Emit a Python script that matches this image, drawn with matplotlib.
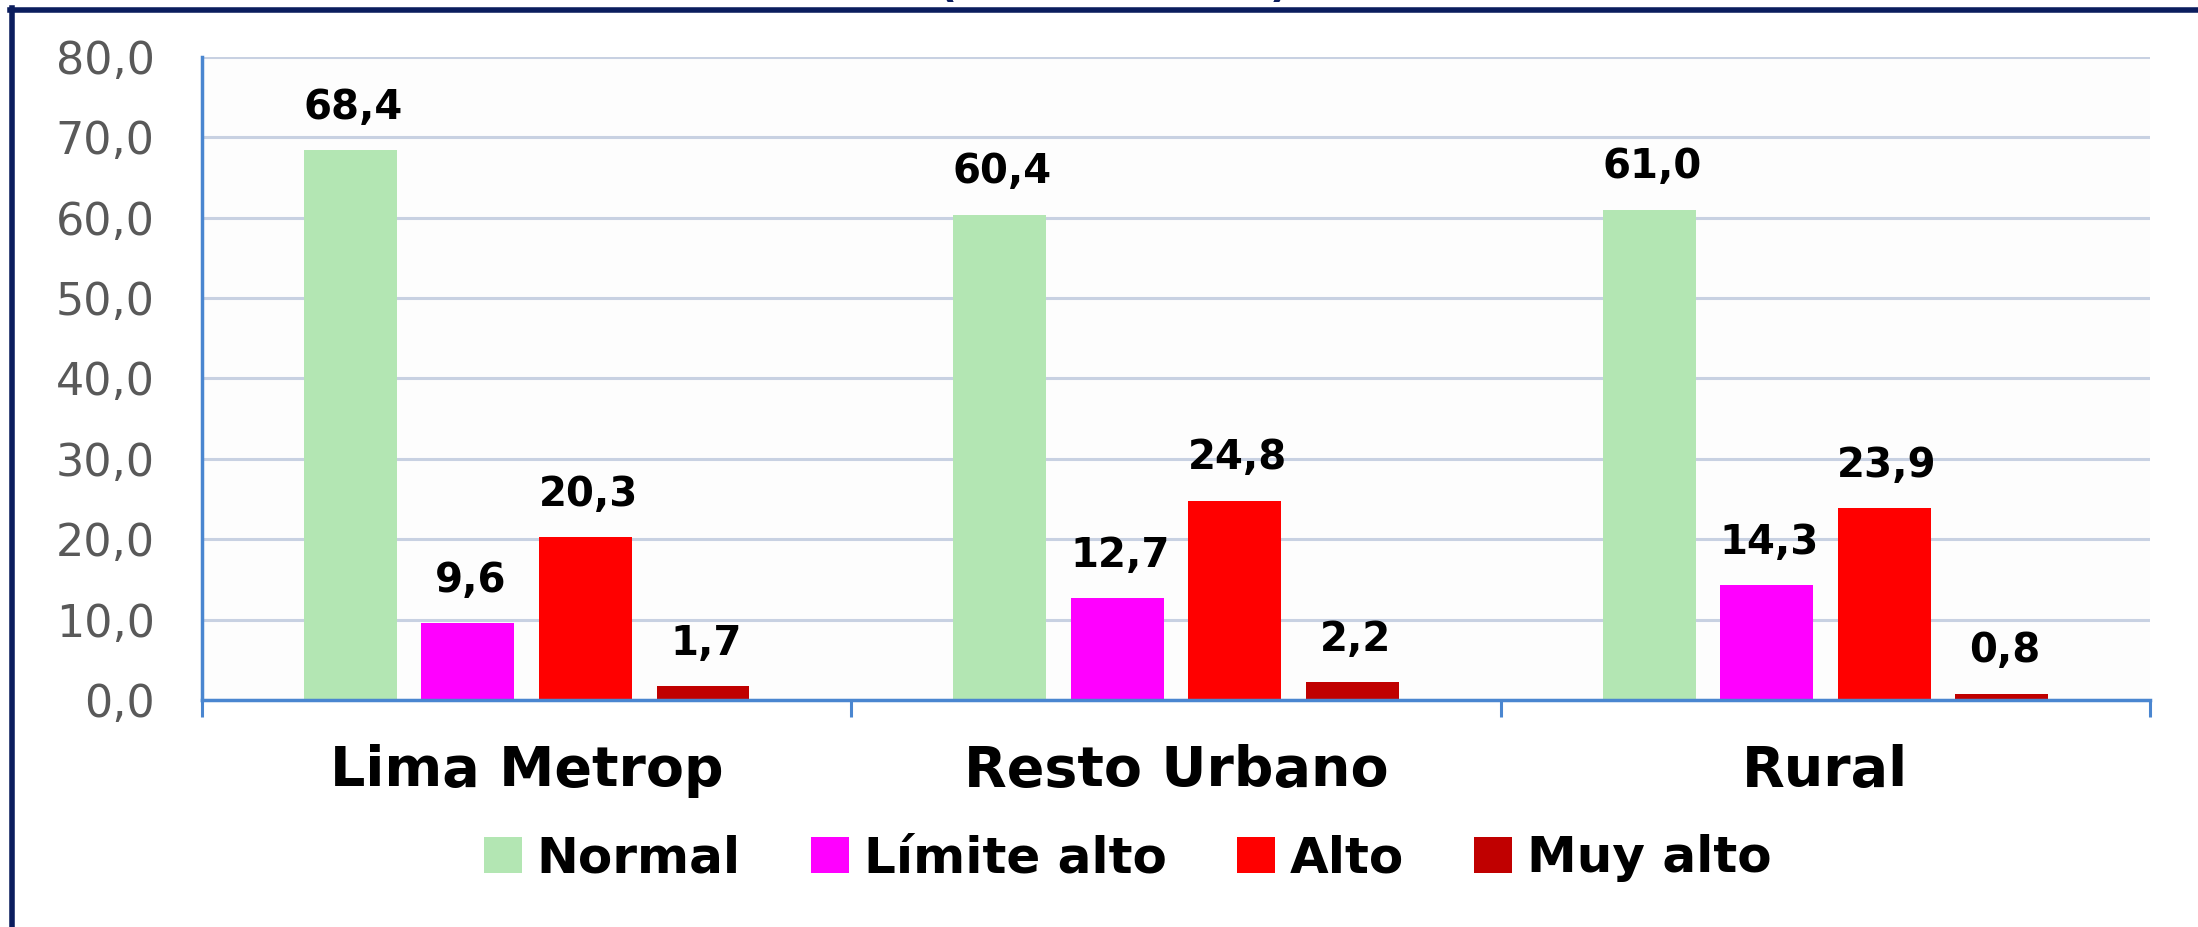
import matplotlib
matplotlib.use("Agg")
import matplotlib.pyplot as plt
import numpy as np
from matplotlib.lines import Line2D

# data
categories = ["Lima Metrop", "Resto Urbano", "Rural"]
series_names = ["Normal", "Límite alto", "Alto", "Muy alto"]
normal = [68.4, 60.4, 61.0]
limite_alto = [9.6, 12.7, 14.3]
alto = [20.3, 24.8, 23.9]
muy_alto = [1.7, 2.2, 0.8]
yticks = [0, 10, 20, 30, 40, 50, 60, 70, 80]
ytick_labels = ["0,0", "10,0", "20,0", "30,0", "40,0", "50,0", "60,0", "70,0", "80,0"]

colors = ["#b3e6b3", "#ff00ff", "#ff0000", "#c00000"]
axis_blue = "#4a86d0"
navy = "#0b1d5e"

fig = plt.figure(figsize=(21.98, 9.27), dpi=100, facecolor="white")
ax = fig.add_axes([0.0919, 0.2449, 0.8863, 0.6936])
ax.set_facecolor("#fdfdfd")

x = np.arange(len(categories))
step = 0.181
width = 0.143
all_series = [normal, limite_alto, alto, muy_alto]
for i, (vals, name, c) in enumerate(zip(all_series, series_names, colors)):
    pos = x + (i - 1.5) * step
    bars = ax.bar(pos, vals, width, color=c, label=name, zorder=3)
    for b, v in zip(bars, vals):
        ax.annotate(f"{v:.1f}".replace(".", ","),
                    (b.get_x() + b.get_width() / 2, b.get_height()),
                    xytext=(2, 16), textcoords="offset points",
                    ha="center", va="bottom", fontsize=29,
                    fontweight="bold", color="black")

ax.set_ylim(0, 80)
ax.set_xlim(-0.5, 2.5)
ax.set_yticks(yticks)
ax.set_yticklabels(ytick_labels)
ax.tick_params(axis="y", length=0, pad=34, labelsize=32, labelcolor="#595959")
ax.grid(axis="y", color="#c8d1e2", linewidth=2.2, zorder=0)

ax.set_xticks(x)
ax.set_xticklabels(categories, fontsize=40, fontweight="bold")
ax.tick_params(axis="x", which="major", length=0, pad=32)
ax.set_xticks([-0.5, 0.5, 1.5, 2.5], minor=True)
ax.tick_params(axis="x", which="minor", length=12, width=2.2, color=axis_blue)

for s in ["top", "right"]:
    ax.spines[s].set_visible(False)
for s in ["left", "bottom"]:
    ax.spines[s].set_color(axis_blue)
    ax.spines[s].set_linewidth(2.5)
    ax.spines[s].set_zorder(4)

fig.legend(loc="center", bbox_to_anchor=(0.513, 0.074), ncol=4, frameon=False,
           prop={"size": 36, "weight": "bold"}, handlelength=0.76, handleheight=0.76,
           handletextpad=0.3, columnspacing=1.4)

# dark frame at top and left of the slide
fig.add_artist(Line2D([0.0046, 1.0], [0.989, 0.989], transform=fig.transFigure,
                      color=navy, linewidth=4))
fig.add_artist(Line2D([0.0055, 0.0055], [0.0, 0.991], transform=fig.transFigure,
                      color=navy, linewidth=4))

# bottom of the cut-off title brackets above the frame
fig.text(0.431, 1.003, "(", ha="center", va="baseline", fontsize=30,
         fontweight="bold", color=navy)
fig.text(0.582, 1.003, ")", ha="center", va="baseline", fontsize=30,
         fontweight="bold", color=navy)

fig.savefig("out.png", dpi=100, facecolor="white")
